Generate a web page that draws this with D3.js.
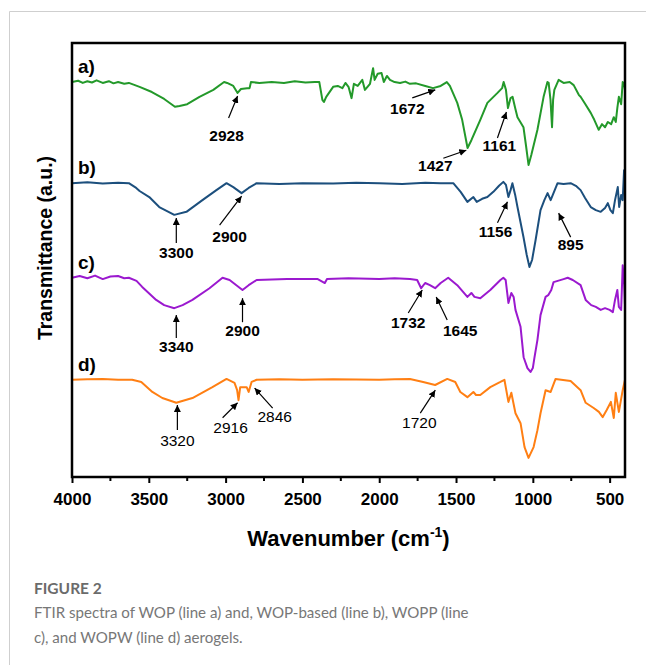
<!DOCTYPE html>
<html>
<head>
<meta charset="utf-8">
<script src="https://cdn.jsdelivr.net/npm/d3@7/dist/d3.min.js"></script>
<style>
  body { margin: 0; background: #fff; }
  svg { display: block; }
</style>
</head>
<body>
<div id="chart"></div>
<script>
// FTIR spectra, transmittance in a.u. (stacked), wavenumber in cm-1
const seriesA = [[4000,91.0],[3960,91.3],[3930,90.8],[3900,91.2],[3870,90.9],[3840,91.4],[3800,90.8],[3760,91.2],[3730,90.7],[3700,91.0],[3660,90.6],[3630,90.8],[3560,89.9],[3480,88.7],[3400,87.1],[3330,85.3],[3300,85.5],[3250,85.9],[3170,87.6],[3080,89.2],[3010,91.0],[2990,90.8],[2950,90.1],[2922,88.5],[2900,89.4],[2860,89.6],[2844,89.6],[2835,91.0],[2780,90.8],[2700,91.0],[2620,90.8],[2550,91.2],[2480,90.9],[2420,91.0],[2390,91.0],[2370,86.9],[2360,86.4],[2345,87.6],[2300,89.9],[2270,90.1],[2240,89.6],[2220,90.8],[2200,89.9],[2180,87.3],[2165,90.6],[2140,90.1],[2110,91.5],[2093,89.2],[2060,90.6],[2040,94.2],[2030,91.5],[2010,92.9],[1985,93.1],[1970,91.0],[1950,92.4],[1930,91.5],[1900,91.0],[1864,90.8],[1830,91.1],[1800,90.6],[1760,90.7],[1700,90.1],[1650,89.6],[1600,90.1],[1560,91.0],[1540,90.1],[1492,86.2],[1460,82.3],[1425,75.8],[1400,77.6],[1342,82.3],[1296,86.2],[1230,88.5],[1200,89.6],[1190,91.0],[1175,89.2],[1162,85.0],[1145,87.3],[1132,87.6],[1115,85.0],[1100,82.9],[1061,80.6],[1045,76.5],[1028,71.9],[1010,74.2],[970,80.0],[930,87.6],[905,91.0],[897,90.8],[885,86.9],[875,80.6],[868,86.9],[860,89.2],[832,91.5],[800,90.8],[760,91.0],[734,90.3],[700,88.0],[689,87.6],[660,86.0],[623,83.9],[600,82.3],[571,80.0],[550,81.3],[530,80.6],[512,81.8],[490,81.3],[473,82.9],[460,81.8],[450,85.0],[440,87.6],[425,85.9],[415,91.0],[405,90.3],[400,89.2]];

const seriesB = [[4000,67.7],[3900,67.9],[3800,67.6],[3700,67.8],[3630,67.7],[3582,66.6],[3560,65.9],[3497,64.5],[3432,62.2],[3334,60.4],[3255,61.1],[3151,63.8],[3060,66.1],[2994,67.7],[2950,66.8],[2896,65.4],[2850,66.6],[2798,67.7],[2650,67.5],[2500,67.7],[2300,67.6],[2150,67.8],[2000,67.7],[1850,67.5],[1700,67.8],[1600,67.7],[1518,67.7],[1470,65.7],[1426,63.4],[1387,64.5],[1365,63.4],[1330,64.1],[1296,64.5],[1257,65.7],[1220,67.1],[1192,68.0],[1175,67.3],[1159,64.5],[1145,66.1],[1133,67.7],[1115,65.0],[1100,62.2],[1061,55.3],[1040,51.2],[1022,48.4],[1005,50.0],[982,54.6],[950,61.5],[925,63.8],[904,65.4],[884,63.8],[870,65.0],[839,67.7],[800,67.5],[754,67.7],[720,67.1],[689,66.1],[660,64.3],[623,62.2],[590,61.5],[558,61.1],[530,62.0],[512,63.1],[495,61.5],[479,60.8],[465,63.8],[447,66.8],[438,62.2],[425,65.0],[415,63.8],[406,70.7],[400,69.6]];

const seriesC = [[4000,45.9],[3950,46.3],[3900,45.8],[3850,46.4],[3800,45.6],[3750,46.2],[3700,46.3],[3660,45.8],[3630,45.9],[3580,45.2],[3543,43.8],[3452,40.8],[3400,39.6],[3334,38.9],[3280,39.6],[3216,40.8],[3105,43.5],[3020,45.9],[2974,45.4],[2930,44.2],[2890,43.1],[2850,44.2],[2798,45.4],[2600,45.6],[2400,45.6],[2354,44.7],[2340,45.6],[2200,45.8],[2000,45.6],[1900,45.8],[1800,45.6],[1753,45.4],[1727,43.5],[1701,44.7],[1670,44.2],[1636,43.5],[1600,44.7],[1551,45.9],[1492,44.2],[1426,41.5],[1400,42.4],[1380,41.5],[1342,41.2],[1277,43.1],[1211,45.4],[1192,45.9],[1177,45.4],[1159,40.1],[1140,42.4],[1125,41.5],[1113,38.5],[1080,34.6],[1060,27.6],[1035,25.1],[1015,24.2],[1000,25.1],[990,27.4],[970,31.6],[950,37.3],[917,41.5],[900,41.9],[880,43.1],[865,44.9],[800,45.6],[773,45.9],[740,45.4],[689,44.2],[656,40.8],[620,39.6],[590,39.2],[558,38.5],[530,38.9],[500,38.5],[479,38.0],[465,40.8],[450,43.1],[440,39.2],[425,38.5],[415,48.8],[405,44.2],[400,39.6]];

const seriesD = [[4000,22.4],[3900,22.5],[3800,22.6],[3700,22.4],[3608,22.4],[3549,21.9],[3477,19.6],[3412,18.2],[3321,17.1],[3216,18.2],[3086,20.7],[2994,22.6],[2942,21.7],[2925,20.0],[2916,17.7],[2905,20.7],[2863,20.7],[2850,19.6],[2831,21.9],[2798,22.4],[2650,22.5],[2500,22.4],[2300,22.5],[2000,22.4],[1900,22.5],[1800,22.6],[1714,21.9],[1636,21.2],[1557,22.6],[1505,21.9],[1472,19.6],[1426,18.4],[1387,19.6],[1370,18.9],[1342,18.9],[1277,20.7],[1211,21.9],[1185,22.4],[1159,17.3],[1140,19.4],[1113,14.7],[1080,12.4],[1054,6.9],[1028,4.4],[995,6.9],[970,10.8],[950,14.7],[917,20.0],[884,19.6],[852,22.6],[754,22.1],[689,20.0],[656,17.1],[604,15.9],[570,15.0],[545,13.8],[520,15.4],[492,17.3],[473,13.6],[460,19.4],[440,15.0],[415,20.0],[400,22.4]];

const seriesNames = ["a)", "b)", "c)", "d)"];
const seriesList = [seriesA, seriesB, seriesC, seriesD];
const seriesColors = ["#23992a", "#1c4f7d", "#9b19cf", "#ff7f13"];

const xTicks = [4000, 3500, 3000, 2500, 2000, 1500, 1000, 500];

// peak labels: arrow tip in data units
const peaks = [
  {s: 0, text: "2928", w: 2922, v: 87.8},
  {s: 0, text: "1672", w: 1635, v: 89.2},
  {s: 0, text: "1427", w: 1433, v: 75.3},
  {s: 0, text: "1161", w: 1172, v: 84.1},
  {s: 1, text: "3300", w: 3321, v: 59.7},
  {s: 1, text: "2900", w: 2896, v: 64.7},
  {s: 1, text: "1156", w: 1165, v: 63.4},
  {s: 1, text: "895", w: 832, v: 60.8},
  {s: 2, text: "3340", w: 3321, v: 37.3},
  {s: 2, text: "2900", w: 2890, v: 41.2},
  {s: 2, text: "1732", w: 1720, v: 43.1},
  {s: 2, text: "1645", w: 1629, v: 41.5},
  {s: 3, text: "3320", w: 3314, v: 16.6},
  {s: 3, text: "2916", w: 2922, v: 17.1},
  {s: 3, text: "2846", w: 2811, v: 20.5},
  {s: 3, text: "1720", w: 1635, v: 20.0}
];
// arrow tail and label offsets (px) from the tip, same order as peaks
const peakOffsets = [
  [-9, 22, -11, 41], [-23, 8, -28, 20], [-23, 8, -31, 17], [-9, 26, -7, 35],
  [0, 25, 0, 36], [-22, 29, -12, 42], [-10, 21, -12, 31], [12, 24, 12, 33],
  [0, 23, 0, 33], [0, 24, 0, 34], [-14, 23, -14, 34], [11, 23, 24, 35],
  [0, 25, 0, 37], [-15, 15, -7, 26], [18, 20, 20, 30], [-15, 23, -16, 34]
];

const W = 646, H = 665;
const margin = {top: 43, right: 21, bottom: 188, left: 72};
const width = W - margin.left - margin.right;
const height = H - margin.top - margin.bottom;

const root = d3.select("#chart").append("svg")
  .attr("width", W)
  .attr("height", H);

// page border lines
root.append("line").attr("x1", 9.5).attr("y1", 11.5).attr("x2", W).attr("y2", 11.5)
  .style("stroke", "#cfcfcf");
root.append("line").attr("x1", 9.5).attr("y1", 11.5).attr("x2", 9.5).attr("y2", H)
  .style("stroke", "#cfcfcf");

const svg = root.append("g")
  .attr("transform", `translate(${margin.left},${margin.top})`);

const x = d3.scaleLinear().domain([4000, 400]).range([0, width]);
const y = d3.scaleLinear().domain([0, 100]).range([height, 0]);

root.append("defs").append("marker")
  .attr("id", "arr")
  .attr("viewBox", "0 0 10 10")
  .attr("refX", 10).attr("refY", 5)
  .attr("markerWidth", 7).attr("markerHeight", 7)
  .attr("markerUnits", "userSpaceOnUse")
  .attr("orient", "auto")
  .append("path").attr("d", "M0,0L10,5L0,10Z").attr("fill", "#000");

// spectra
const line = d3.line().x(d => x(d[0])).y(d => y(d[1]));
seriesList.forEach((s, i) => {
  svg.append("path")
    .datum(s)
    .attr("fill", "none")
    .attr("stroke", seriesColors[i])
    .attr("stroke-width", 2)
    .attr("stroke-linejoin", "round")
    .attr("d", line);
  svg.append("text")
    .attr("x", 6)
    .attr("y", y(s[0][1]) - 9)
    .style("font-family", "Liberation Sans, Arial, sans-serif")
    .style("font-weight", "bold")
    .style("font-size", "19px")
    .text(seriesNames[i]);
});

// peak arrows + labels
peaks.forEach((p, i) => {
  const o = peakOffsets[i];
  const tx = x(p.w), ty = y(p.v);
  svg.append("line")
    .attr("x1", tx + o[0]).attr("y1", ty + o[1])
    .attr("x2", tx).attr("y2", ty)
    .attr("stroke", "#000")
    .attr("stroke-width", 1.2)
    .attr("marker-end", "url(#arr)");
  svg.append("text")
    .attr("x", tx + o[2]).attr("y", ty + o[3])
    .attr("text-anchor", "middle")
    .attr("dominant-baseline", "middle")
    .style("font-family", "Liberation Sans, Arial, sans-serif")
    .style("font-weight", p.s === 3 ? "normal" : "bold")
    .style("font-size", "15.5px")
    .text(p.text);
});

// x axis
const xAxis = svg.append("g")
  .attr("transform", `translate(0,${height})`)
  .call(d3.axisBottom(x).tickValues(xTicks).tickSize(6).tickPadding(10).tickFormat(d3.format("d")));
xAxis.select(".domain").remove();
xAxis.selectAll(".tick line").attr("stroke-width", 2);
xAxis.selectAll(".tick text")
  .style("font-family", "Liberation Sans, Arial, sans-serif")
  .style("font-weight", "bold")
  .style("font-size", "17px")
  .attr("fill", "#000");
svg.append("g")
  .attr("transform", `translate(0,${height})`)
  .selectAll("line")
  .data(d3.range(3750, 400, -500))
  .enter().append("line")
  .attr("x1", d => x(d)).attr("x2", d => x(d))
  .attr("y1", 0).attr("y2", 4)
  .attr("stroke", "#000").attr("stroke-width", 2);

// frame
svg.append("rect")
  .attr("width", width).attr("height", height)
  .attr("fill", "none")
  .attr("stroke", "#000")
  .attr("stroke-width", 2.5);

// axis titles
svg.append("text")
  .attr("x", width / 2)
  .attr("y", height + 69)
  .attr("text-anchor", "middle")
  .style("font-family", "Liberation Sans, Arial, sans-serif")
  .style("font-weight", "bold")
  .style("font-size", "22px")
  .text("Wavenumber (cm")
  .append("tspan").attr("dy", -9).style("font-size", "14px").text("-1")
  .select(function () { return this.parentNode; })
  .append("tspan").attr("dy", 9).text(")");

svg.append("text")
  .attr("transform", `translate(-20,${height / 2 - 12}) rotate(-90)`)
  .attr("text-anchor", "middle")
  .style("font-family", "Liberation Sans, Arial, sans-serif")
  .style("font-weight", "bold")
  .style("font-size", "19.5px")
  .text("Transmittance (a.u.)");

// caption
const cap = root.append("g").style("font-family", "Lato, 'Open Sans', sans-serif");
cap.append("text")
  .attr("x", 34).attr("y", 594)
  .style("font-size", "15.5px")
  .style("font-weight", "bold")
  .attr("fill", "#6b6b6b")
  .text("FIGURE 2");
cap.append("text")
  .attr("x", 34).attr("y", 618)
  .style("font-size", "15.1px")
  .attr("fill", "#777")
  .text("FTIR spectra of WOP (line a) and, WOP-based (line b), WOPP (line");
cap.append("text")
  .attr("x", 34).attr("y", 643)
  .style("font-size", "15.1px")
  .attr("fill", "#777")
  .text("c), and WOPW (line d) aerogels.");
</script>
</body>
</html>
